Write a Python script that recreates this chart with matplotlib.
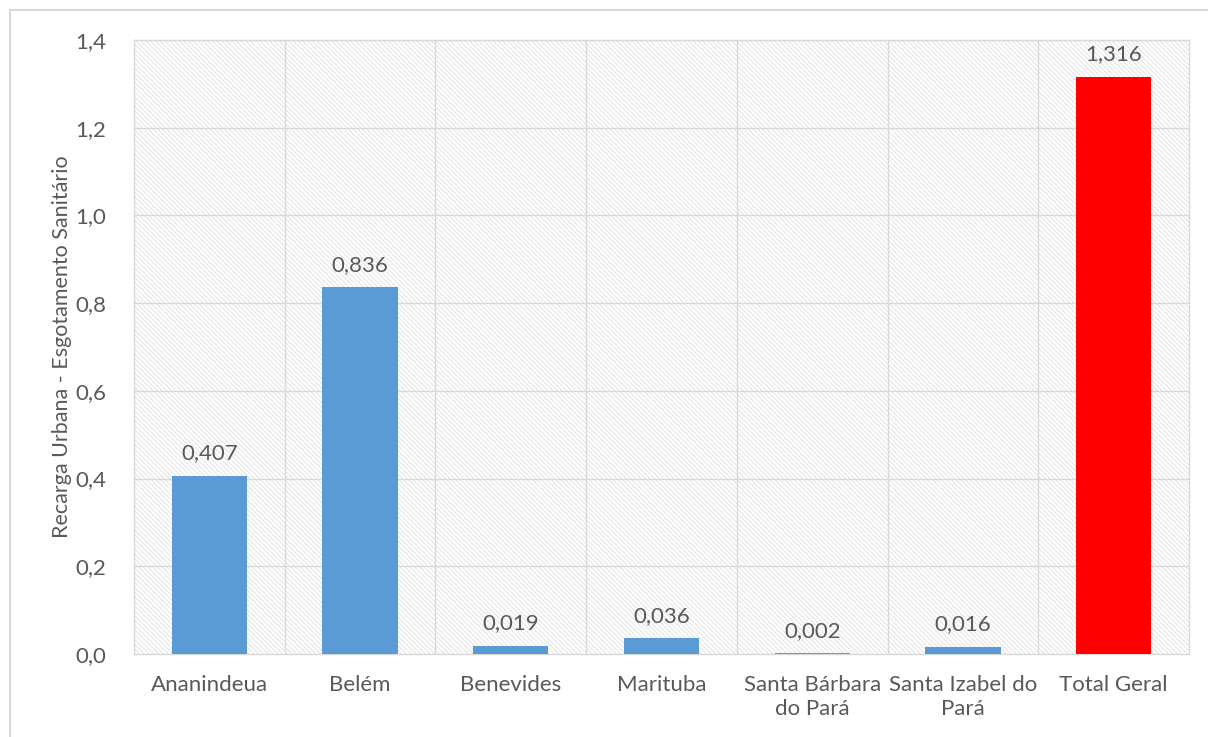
import matplotlib
matplotlib.use("Agg")
import matplotlib.pyplot as plt
from matplotlib.patches import Rectangle
import numpy as np

categories = ["Ananindeua", "Belém", "Benevides", "Marituba", "Santa Bárbara\ndo Pará",
              "Santa Izabel do\nPará", "Total Geral"]
values = [0.407, 0.836, 0.019, 0.036, 0.002, 0.016, 1.316]
labels = ["0,407", "0,836", "0,019", "0,036", "0,002", "0,016", "1,316"]
yticks = [0.0, 0.2, 0.4, 0.6, 0.8, 1.0, 1.2, 1.4]
ytick_labels = ["0,0", "0,2", "0,4", "0,6", "0,8", "1,0", "1,2", "1,4"]
colors = ["#5B9BD5"] * 6 + ["#FF0000"]

plt.rcParams['font.family'] = ['Lato', 'DejaVu Sans']
plt.rcParams['hatch.linewidth'] = 0.6
txt = '#595959'
grid = '#d9d9d9'

W, H = 1208, 737
fig = plt.figure(figsize=(W/100, H/100), dpi=100)
fig.patches.append(Rectangle((10/W, -0.1), 1.2, 1 - 10/H + 0.1, transform=fig.transFigure,
                             fill=False, edgecolor=grid, linewidth=1.5))
ax = fig.add_axes([134/W, 1 - 654/H, (1189-134)/W, (654-40)/H])

x = np.arange(len(categories))
ax.set_xlim(-0.5, len(categories) - 0.5)
ax.set_ylim(0, 1.4)
ax.add_patch(Rectangle((0, 0), 1, 1, transform=ax.transAxes, facecolor='white',
                       hatch='\\\\\\\\\\\\\\', edgecolor='#dedede', linewidth=0, zorder=0))
for yv in yticks[1:]:
    ax.axhline(yv, color=grid, linewidth=1, zorder=1)
for xv in np.arange(0.5, len(categories) - 0.5, 1):
    ax.axvline(xv, color=grid, linewidth=1, zorder=1)

ax.bar(x, values, width=0.5, color=colors, zorder=3)
fs = 16
for xi, v, lab in zip(x, values, labels):
    ax.annotate(lab, (xi, v), xytext=(0, 9), textcoords='offset points',
                ha='center', va='bottom', fontsize=fs, color=txt, zorder=4)

ax.set_yticks(yticks)
ax.set_yticklabels(ytick_labels, fontsize=fs, color=txt)
ax.set_xticks(x)
ax.set_xticklabels(categories, fontsize=fs, color=txt, linespacing=1.25)
ax.tick_params(axis='both', length=0, pad=15)
ax.tick_params(axis='y', pad=20)
for s in ax.spines.values():
    s.set_color(grid)
    s.set_linewidth(1)
ax.set_ylabel("Recarga Urbana - Esgotamento Sanitário", fontsize=15.5, color=txt, labelpad=2)

fig.savefig("out.png", dpi=100)
